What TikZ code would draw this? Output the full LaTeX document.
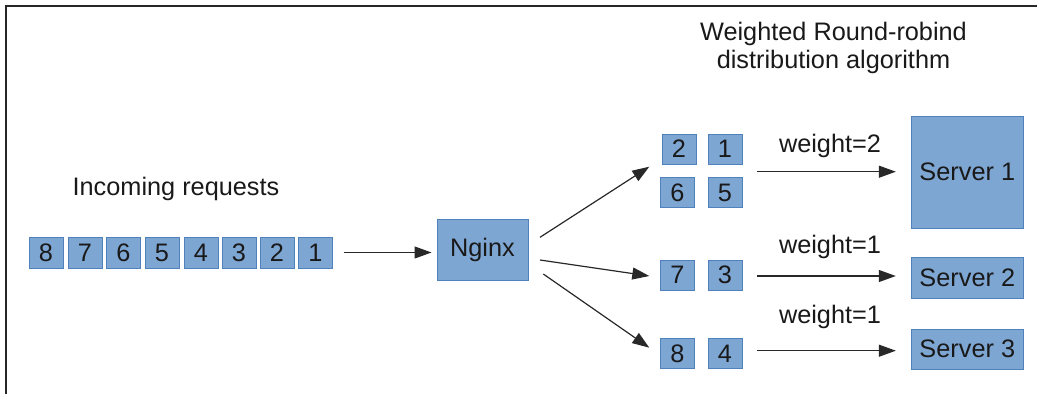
\documentclass[tikz,border=0pt]{standalone}
\usepackage{fontspec}
\setmainfont{Liberation Sans}
\usetikzlibrary{arrows.meta,calc}
\definecolor{boxfill}{RGB}{126,166,211}
\definecolor{boxline}{RGB}{79,129,189}
\definecolor{linec}{RGB}{40,40,40}
\begin{document}
\begin{tikzpicture}[x=1pt,y=-1pt,
  every node/.style={font=\fontsize{25.3}{28}\selectfont, text=black!90},
  qbox/.style={draw=boxline, fill=boxfill, line width=1pt, inner sep=0pt, minimum width=34pt, minimum height=31pt},
  bigbox/.style={draw=boxline, fill=boxfill, line width=1pt, inner sep=0pt},
  arr/.style={draw=linec, line width=1.2pt, -{Triangle[length=17pt,width=12pt]}},
  lbl/.style={inner sep=0pt}]
\useasboundingbox (0,0) rectangle (1037,394);
% frame
\draw[line width=2pt, black!85] (6.3,394) -- (6.3,5.7) -- (1037,5.7);
% queue
\node[lbl] (inc) at (176,189) {Incoming requests};
\node[qbox] (q8) at (46,252.5) {8};
\node[qbox] (q7) at (85,252.5) {7};
\node[qbox] (q6) at (123.5,252.5) {6};
\node[qbox] (q5) at (162,252.5) {5};
\node[qbox] (q4) at (201,252.5) {4};
\node[qbox] (q3) at (239,252.5) {3};
\node[qbox] (q2) at (277,252.5) {2};
\node[qbox] (q1) at (315.5,252.5) {1};
% nginx
\node[bigbox, minimum width=91pt, minimum height=61pt] (ng) at (482.5,249.5) {Nginx};
\draw[arr, shorten <=10.5pt, shorten >=5pt] (q1.east) -- (ng.west |- q1.east);
% title
\node[lbl, align=center] (title) at (833.5,48) {Weighted Round-robind\\distribution algorithm};
% groups
\node[qbox, minimum height=30pt] (b2) at (679,149) {2};
\node[qbox, minimum height=30pt] (b1) at (725,149) {1};
\node[qbox, minimum height=30pt] (b6) at (677.5,192.5) {6};
\node[qbox, minimum height=30pt] (b5) at (725,192.5) {5};
\node[qbox, minimum height=30pt] (b7) at (677.5,275) {7};
\node[qbox, minimum height=30pt] (b3) at (725,275) {3};
\node[qbox, minimum height=30pt] (b8) at (677.5,353.5) {8};
\node[qbox, minimum height=30pt] (b4) at (725,353.5) {4};
% nginx arrows
\coordinate (n1) at (540,237.3);
\coordinate (n2) at (540,260);
\coordinate (n3) at (543.3,274);
\coordinate (g1) at (649.3,166.7);
\coordinate (g2) at (649.3,276);
\coordinate (g3) at (649.3,347.7);
\draw[arr] (n1) -- (g1);
\draw[arr] (n2) -- (g2);
\draw[arr] (n3) -- (g3);
% servers
\node[bigbox, minimum width=112pt, minimum height=112pt] (s1) at (967.3,172) {Server 1};
\node[bigbox, minimum width=112pt, minimum height=41pt] (s2) at (967.3,278) {Server 2};
\node[bigbox, minimum width=112pt, minimum height=40pt] (s3) at (967.3,349) {Server 3};
\coordinate (c1) at (757,171.7);
\coordinate (c2) at (757,276);
\coordinate (c3) at (757,350.7);
\draw[arr, shorten >=15pt] (c1) -- (c1 -| s1.west);
\draw[arr, shorten >=15pt] (c2) -- (c2 -| s2.west);
\draw[arr, shorten >=15pt] (c3) -- (c3 -| s3.west);
% weights
\node[lbl] (w1) at (830,146) {weight=2};
\node[lbl] (w2) at (830,247) {weight=1};
\node[lbl] (w3) at (830,317) {weight=1};
\end{tikzpicture}
\end{document}
